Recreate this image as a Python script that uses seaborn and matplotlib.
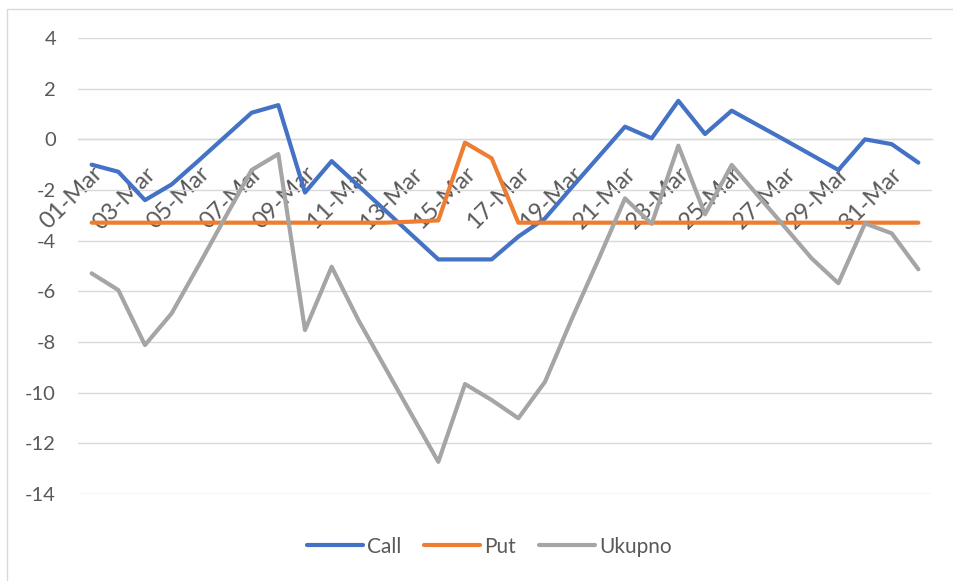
import matplotlib
matplotlib.use('Agg')
import matplotlib.pyplot as plt
import seaborn as sns
import pandas as pd
from matplotlib.patches import Rectangle
from matplotlib.lines import Line2D

# ---- data ----
dates = [f"{d:02d}-Mar" for d in range(1, 32)] + ["01-Apr"]
call = [-1.00, -1.28, -2.40, -1.78, -0.85, 0.10, 1.05, 1.35, -2.10, -0.86,
        -1.83, -2.80, -3.77, -4.74, -4.74, -4.74, -3.84, -3.12, -1.90, -0.70,
        0.50, 0.04, 1.52, 0.21, 1.13, 0.55, -0.03, -0.62, -1.21, 0.00,
        -0.19, -0.92]
put = [-3.29, -3.29, -3.29, -3.29, -3.29, -3.29, -3.29, -3.29, -3.29, -3.29,
       -3.29, -3.29, -3.25, -3.20, -0.13, -0.75, -3.29, -3.29, -3.29, -3.29,
       -3.29, -3.29, -3.29, -3.29, -3.29, -3.29, -3.29, -3.29, -3.29, -3.29,
       -3.29, -3.29]
ukupno = [-5.29, -5.95, -8.12, -6.87, -5.00, -3.10, -1.21, -0.58, -7.53, -5.03,
          -7.13, -9.00, -10.87, -12.73, -9.66, -10.29, -11.01, -9.57, -7.10, -4.75,
          -2.33, -3.34, -0.25, -2.96, -1.01, -2.24, -3.47, -4.70, -5.68, -3.32,
          -3.71, -5.13]
series = ["Call", "Put", "Ukupno"]
colors = {"Call": "#4472C4", "Put": "#ED7D31", "Ukupno": "#A5A5A5"}
yticks = list(range(-14, 5, 2))

sns.set_theme(style="white")
plt.rcParams['font.family'] = ['Lato', 'DejaVu Sans']

df = pd.DataFrame({"Datum": dates, "Call": call, "Put": put, "Ukupno": ukupno})
long = df.melt(id_vars="Datum", var_name="Serija", value_name="Vrijednost")
long["pos"] = long.groupby("Serija").cumcount()

W, H = 954, 581
fig = plt.figure(figsize=(W / 100, H / 100), dpi=100)
left, right, top, bottom = 78.3, 931.7, 38.0, 494.0
ax = fig.add_axes([left / W, 1 - bottom / H, (right - left) / W, (bottom - top) / H])

LW = 3.0
sns.lineplot(data=long, x="pos", y="Vrijednost", hue="Serija", hue_order=series,
             palette=colors, linewidth=LW, ax=ax, legend=False, sort=False,
             estimator=None, zorder=3, solid_capstyle="round", solid_joinstyle="round")

ax.set_xlim(-0.5, len(dates) - 0.5)
ax.set_ylim(-14, 4)
ax.set_yticks(yticks)
ax.set_yticklabels([str(v) for v in yticks])
ax.yaxis.grid(True, color="#D9D9D9", linewidth=1.0)
ax.set_xlabel("")
ax.set_ylabel("")

for s in ["left", "right", "top"]:
    ax.spines[s].set_visible(False)
ax.spines["bottom"].set_position(("data", 0))
ax.spines["bottom"].set_color("#D9D9D9")
ax.spines["bottom"].set_linewidth(1.0)

major = list(range(0, len(dates), 2))
ax.set_xticks(major)
ax.set_xticklabels([dates[i] for i in major], rotation=45, ha="right", va="top",
                   rotation_mode="anchor")
ax.set_xticks([i - 0.5 for i in range(0, len(dates) + 1, 2)], minor=True)
ax.tick_params(axis="x", which="major", length=0, pad=17, labelsize=17, labelcolor="#595959")
ax.tick_params(axis="x", which="minor", length=4.5, width=1.0, color="#D9D9D9", direction="out")
ax.tick_params(axis="y", length=0, pad=16, labelsize=14.5, labelcolor="#595959")
for lbl in ax.get_xticklabels():
    lbl.set_x(lbl.get_position()[0])

# chart frame
fig.patches.append(Rectangle((7 / W, -0.1), 2, 1 - 9 / H + 0.1, transform=fig.transFigure,
                             fill=False, edgecolor="#D9D9D9", linewidth=1.0))

handles = [Line2D([], [], color=colors[s], linewidth=LW, solid_capstyle="round") for s in series]
fig.legend(handles, series, loc="center", bbox_to_anchor=(489.5 / W, 1 - 546.7 / H), ncol=3,
           frameon=False, fontsize=15, labelcolor="#595959", handlelength=2.67,
           handletextpad=0.22, columnspacing=1.1)

fig.savefig("out.png", dpi=100)
